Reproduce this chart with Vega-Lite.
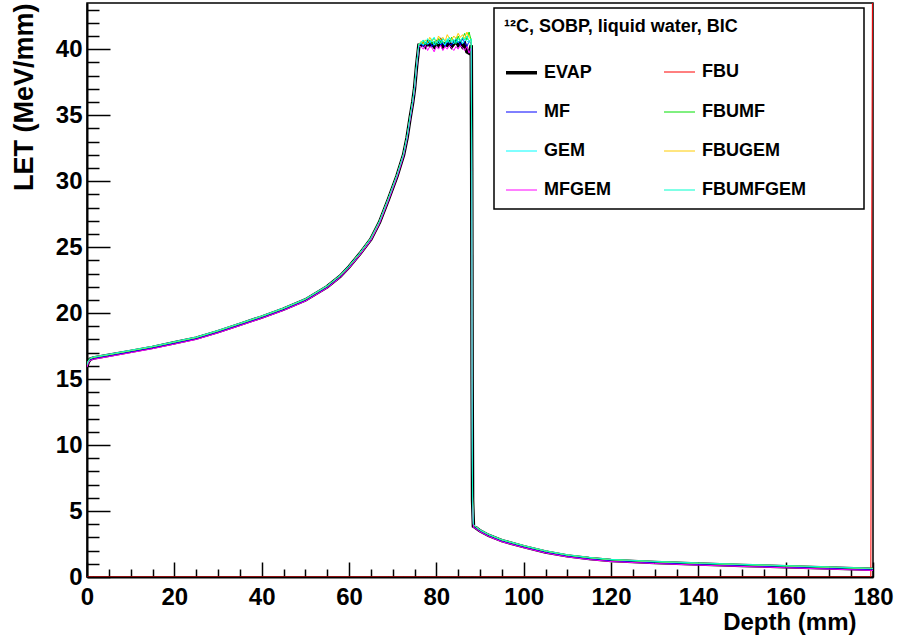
{
  "$schema": "https://vega.github.io/schema/vega-lite/v6.json",
  "width": 786,
  "height": 574,
  "autosize": "none",
  "padding": {"left": 87, "top": 3, "right": 25, "bottom": 62},
  "background": "white",
  "config": {
    "view": {"stroke": "black", "strokeWidth": 1.5},
    "font": "Liberation Sans",
    "axis": {"grid": false, "labelFlush": false, "labelOverlap": false},
    "legend": {"strokeWidth": 1.5}
  },
  "data": {
    "values": [
      {"d": 0, "EVAP": 16.0, "FBU": 0, "MF": 15.97, "FBUMF": 16.04, "GEM": 16.05, "FBUGEM": 16.06, "MFGEM": 15.9, "FBUMFGEM": 16.08},
      {"d": 0.3, "EVAP": 16.3, "FBU": 0, "MF": 16.27, "FBUMF": 16.34, "GEM": 16.35, "FBUGEM": 16.36, "MFGEM": 16.2, "FBUMFGEM": 16.38},
      {"d": 0.7, "EVAP": 16.5, "FBU": 0, "MF": 16.47, "FBUMF": 16.54, "GEM": 16.55, "FBUGEM": 16.56, "MFGEM": 16.4, "FBUMFGEM": 16.58},
      {"d": 1.5, "EVAP": 16.6, "FBU": 0, "MF": 16.57, "FBUMF": 16.64, "GEM": 16.65, "FBUGEM": 16.66, "MFGEM": 16.5, "FBUMFGEM": 16.68},
      {"d": 5, "EVAP": 16.8, "FBU": 0, "MF": 16.77, "FBUMF": 16.84, "GEM": 16.85, "FBUGEM": 16.86, "MFGEM": 16.7, "FBUMFGEM": 16.88},
      {"d": 10, "EVAP": 17.1, "FBU": 0, "MF": 17.07, "FBUMF": 17.14, "GEM": 17.15, "FBUGEM": 17.16, "MFGEM": 17.0, "FBUMFGEM": 17.18},
      {"d": 15, "EVAP": 17.4, "FBU": 0, "MF": 17.37, "FBUMF": 17.44, "GEM": 17.45, "FBUGEM": 17.46, "MFGEM": 17.3, "FBUMFGEM": 17.48},
      {"d": 20, "EVAP": 17.75, "FBU": 0, "MF": 17.72, "FBUMF": 17.79, "GEM": 17.8, "FBUGEM": 17.81, "MFGEM": 17.65, "FBUMFGEM": 17.83},
      {"d": 25, "EVAP": 18.1, "FBU": 0, "MF": 18.07, "FBUMF": 18.14, "GEM": 18.15, "FBUGEM": 18.16, "MFGEM": 18.0, "FBUMFGEM": 18.18},
      {"d": 30, "EVAP": 18.6, "FBU": 0, "MF": 18.57, "FBUMF": 18.64, "GEM": 18.65, "FBUGEM": 18.66, "MFGEM": 18.5, "FBUMFGEM": 18.68},
      {"d": 35, "EVAP": 19.15, "FBU": 0, "MF": 19.12, "FBUMF": 19.19, "GEM": 19.2, "FBUGEM": 19.21, "MFGEM": 19.05, "FBUMFGEM": 19.23},
      {"d": 40, "EVAP": 19.7, "FBU": 0, "MF": 19.67, "FBUMF": 19.74, "GEM": 19.75, "FBUGEM": 19.76, "MFGEM": 19.6, "FBUMFGEM": 19.78},
      {"d": 45, "EVAP": 20.3, "FBU": 0, "MF": 20.27, "FBUMF": 20.34, "GEM": 20.35, "FBUGEM": 20.36, "MFGEM": 20.2, "FBUMFGEM": 20.38},
      {"d": 50, "EVAP": 21.0, "FBU": 0, "MF": 20.97, "FBUMF": 21.04, "GEM": 21.05, "FBUGEM": 21.06, "MFGEM": 20.9, "FBUMFGEM": 21.08},
      {"d": 55, "EVAP": 22.0, "FBU": 0, "MF": 21.97, "FBUMF": 22.04, "GEM": 22.05, "FBUGEM": 22.06, "MFGEM": 21.9, "FBUMFGEM": 22.08},
      {"d": 58, "EVAP": 22.8, "FBU": 0, "MF": 22.77, "FBUMF": 22.84, "GEM": 22.85, "FBUGEM": 22.86, "MFGEM": 22.7, "FBUMFGEM": 22.88},
      {"d": 60, "EVAP": 23.5, "FBU": 0, "MF": 23.47, "FBUMF": 23.54, "GEM": 23.55, "FBUGEM": 23.56, "MFGEM": 23.4, "FBUMFGEM": 23.58},
      {"d": 62.5, "EVAP": 24.5, "FBU": 0, "MF": 24.47, "FBUMF": 24.54, "GEM": 24.55, "FBUGEM": 24.56, "MFGEM": 24.4, "FBUMFGEM": 24.58},
      {"d": 65, "EVAP": 25.6, "FBU": 0, "MF": 25.57, "FBUMF": 25.64, "GEM": 25.65, "FBUGEM": 25.66, "MFGEM": 25.5, "FBUMFGEM": 25.68},
      {"d": 67, "EVAP": 26.9, "FBU": 0, "MF": 26.87, "FBUMF": 26.94, "GEM": 26.95, "FBUGEM": 26.96, "MFGEM": 26.8, "FBUMFGEM": 26.98},
      {"d": 69, "EVAP": 28.6, "FBU": 0, "MF": 28.57, "FBUMF": 28.64, "GEM": 28.65, "FBUGEM": 28.66, "MFGEM": 28.5, "FBUMFGEM": 28.68},
      {"d": 71, "EVAP": 30.4, "FBU": 0, "MF": 30.37, "FBUMF": 30.44, "GEM": 30.45, "FBUGEM": 30.46, "MFGEM": 30.3, "FBUMFGEM": 30.48},
      {"d": 72.5, "EVAP": 32.0, "FBU": 0, "MF": 31.97, "FBUMF": 32.04, "GEM": 32.05, "FBUGEM": 32.06, "MFGEM": 31.9, "FBUMFGEM": 32.08},
      {"d": 73.3, "EVAP": 33.3, "FBU": 0, "MF": 33.27, "FBUMF": 33.34, "GEM": 33.35, "FBUGEM": 33.36, "MFGEM": 33.2, "FBUMFGEM": 33.38},
      {"d": 74, "EVAP": 34.8, "FBU": 0, "MF": 34.77, "FBUMF": 34.84, "GEM": 34.85, "FBUGEM": 34.86, "MFGEM": 34.7, "FBUMFGEM": 34.88},
      {"d": 74.6, "EVAP": 36.0, "FBU": 0, "MF": 35.97, "FBUMF": 36.04, "GEM": 36.05, "FBUGEM": 36.06, "MFGEM": 35.9, "FBUMFGEM": 36.08},
      {"d": 75, "EVAP": 37.0, "FBU": 0, "MF": 36.97, "FBUMF": 37.04, "GEM": 37.05, "FBUGEM": 37.06, "MFGEM": 36.9, "FBUMFGEM": 37.08},
      {"d": 75.5, "EVAP": 38.8, "FBU": 0, "MF": 38.77, "FBUMF": 38.84, "GEM": 38.85, "FBUGEM": 38.86, "MFGEM": 38.7, "FBUMFGEM": 38.88},
      {"d": 76, "EVAP": 40.3, "FBU": 0, "MF": 40.27, "FBUMF": 40.34, "GEM": 40.35, "FBUGEM": 40.36, "MFGEM": 40.2, "FBUMFGEM": 40.38},
      {"d": 76.5, "EVAP": 40.3, "FBU": 0, "MF": 40.4, "FBUMF": 40.4, "GEM": 40.5, "FBUGEM": 40.6, "MFGEM": 40.2, "FBUMFGEM": 40.5},
      {"d": 77, "EVAP": 40.4, "FBU": 0, "MF": 40.2, "FBUMF": 40.6, "GEM": 40.3, "FBUGEM": 40.4, "MFGEM": 40.0, "FBUMFGEM": 40.7},
      {"d": 77.5, "EVAP": 40.2, "FBU": 0, "MF": 40.5, "FBUMF": 40.3, "GEM": 40.7, "FBUGEM": 40.7, "MFGEM": 40.3, "FBUMFGEM": 40.4},
      {"d": 78, "EVAP": 40.5, "FBU": 0, "MF": 40.3, "FBUMF": 40.5, "GEM": 40.4, "FBUGEM": 40.5, "MFGEM": 39.9, "FBUMFGEM": 40.8},
      {"d": 78.5, "EVAP": 40.3, "FBU": 0, "MF": 40.6, "FBUMF": 40.7, "GEM": 40.5, "FBUGEM": 40.9, "MFGEM": 40.2, "FBUMFGEM": 40.5},
      {"d": 79, "EVAP": 40.4, "FBU": 0, "MF": 40.2, "FBUMF": 40.4, "GEM": 40.8, "FBUGEM": 40.6, "MFGEM": 40.1, "FBUMFGEM": 40.6},
      {"d": 79.5, "EVAP": 40.2, "FBU": 0, "MF": 40.4, "FBUMF": 40.6, "GEM": 40.3, "FBUGEM": 40.8, "MFGEM": 39.8, "FBUMFGEM": 40.9},
      {"d": 80, "EVAP": 40.5, "FBU": 0, "MF": 40.3, "FBUMF": 40.3, "GEM": 40.6, "FBUGEM": 40.5, "MFGEM": 40.2, "FBUMFGEM": 40.5},
      {"d": 80.5, "EVAP": 40.3, "FBU": 0, "MF": 40.7, "FBUMF": 40.8, "GEM": 40.4, "FBUGEM": 41.0, "MFGEM": 40.0, "FBUMFGEM": 40.7},
      {"d": 81, "EVAP": 40.6, "FBU": 0, "MF": 40.3, "FBUMF": 40.5, "GEM": 40.7, "FBUGEM": 40.7, "MFGEM": 40.3, "FBUMFGEM": 40.4},
      {"d": 81.5, "EVAP": 40.2, "FBU": 0, "MF": 40.5, "FBUMF": 40.6, "GEM": 40.5, "FBUGEM": 40.9, "MFGEM": 39.9, "FBUMFGEM": 40.8},
      {"d": 82, "EVAP": 40.4, "FBU": 0, "MF": 40.2, "FBUMF": 40.4, "GEM": 40.3, "FBUGEM": 40.6, "MFGEM": 40.2, "FBUMFGEM": 40.6},
      {"d": 82.5, "EVAP": 40.3, "FBU": 0, "MF": 40.6, "FBUMF": 40.7, "GEM": 40.8, "FBUGEM": 41.1, "MFGEM": 40.0, "FBUMFGEM": 40.5},
      {"d": 83, "EVAP": 40.5, "FBU": 0, "MF": 40.4, "FBUMF": 40.5, "GEM": 40.5, "FBUGEM": 40.8, "MFGEM": 40.3, "FBUMFGEM": 40.9},
      {"d": 83.5, "EVAP": 40.2, "FBU": 0, "MF": 40.3, "FBUMF": 40.9, "GEM": 40.6, "FBUGEM": 40.7, "MFGEM": 40.1, "FBUMFGEM": 40.6},
      {"d": 84, "EVAP": 40.4, "FBU": 0, "MF": 40.7, "FBUMF": 40.6, "GEM": 40.4, "FBUGEM": 41.0, "MFGEM": 39.9, "FBUMFGEM": 40.7},
      {"d": 84.5, "EVAP": 40.6, "FBU": 0, "MF": 40.4, "FBUMF": 40.4, "GEM": 40.9, "FBUGEM": 40.8, "MFGEM": 40.2, "FBUMFGEM": 40.5},
      {"d": 85, "EVAP": 40.3, "FBU": 0, "MF": 40.6, "FBUMF": 41.0, "GEM": 40.5, "FBUGEM": 41.2, "MFGEM": 40.0, "FBUMFGEM": 40.8},
      {"d": 85.5, "EVAP": 40.5, "FBU": 0, "MF": 40.3, "FBUMF": 40.6, "GEM": 40.7, "FBUGEM": 40.9, "MFGEM": 40.3, "FBUMFGEM": 40.6},
      {"d": 86, "EVAP": 40.2, "FBU": 0, "MF": 40.8, "FBUMF": 40.8, "GEM": 40.4, "FBUGEM": 41.1, "MFGEM": 40.1, "FBUMFGEM": 40.9},
      {"d": 86.5, "EVAP": 40.4, "FBU": 0, "MF": 40.5, "FBUMF": 41.2, "GEM": 40.8, "FBUGEM": 40.8, "MFGEM": 39.9, "FBUMFGEM": 40.7},
      {"d": 87, "EVAP": 39.8, "FBU": 0, "MF": 40.2, "FBUMF": 40.7, "GEM": 40.6, "FBUGEM": 41.3, "MFGEM": 40.2, "FBUMFGEM": 41.0},
      {"d": 87.5, "EVAP": 39.7, "FBU": 0, "MF": 40.6, "FBUMF": 41.3, "GEM": 40.5, "FBUGEM": 40.9, "MFGEM": 39.7, "FBUMFGEM": 40.6},
      {"d": 88, "EVAP": 40.3, "FBU": 0, "MF": 40.4, "FBUMF": 40.6, "GEM": 40.7, "FBUGEM": 40.7, "MFGEM": 40.1, "FBUMFGEM": 40.8},
      {"d": 88.1, "EVAP": 31.0, "FBU": 0, "MF": 31.5, "FBUMF": 31.2, "GEM": 30.5, "FBUGEM": 31.4, "MFGEM": 30.0, "FBUMFGEM": 30.8},
      {"d": 88.2, "EVAP": 15.0, "FBU": 0, "MF": 15.5, "FBUMF": 15.2, "GEM": 14.5, "FBUGEM": 15.4, "MFGEM": 14.8, "FBUMFGEM": 15.1},
      {"d": 88.3, "EVAP": 5.8, "FBU": 0, "MF": 6.0, "FBUMF": 5.9, "GEM": 5.6, "FBUGEM": 6.1, "MFGEM": 5.5, "FBUMFGEM": 5.7},
      {"d": 88.5, "EVAP": 3.85, "FBU": 0, "MF": 3.82, "FBUMF": 3.92, "GEM": 3.95, "FBUGEM": 3.97, "MFGEM": 3.75, "FBUMFGEM": 3.99},
      {"d": 89, "EVAP": 3.75, "FBU": 0, "MF": 3.72, "FBUMF": 3.8, "GEM": 3.81, "FBUGEM": 3.82, "MFGEM": 3.67, "FBUMFGEM": 3.83},
      {"d": 90, "EVAP": 3.5, "FBU": 0, "MF": 3.47, "FBUMF": 3.55, "GEM": 3.56, "FBUGEM": 3.57, "MFGEM": 3.42, "FBUMFGEM": 3.58},
      {"d": 92, "EVAP": 3.15, "FBU": 0, "MF": 3.12, "FBUMF": 3.2, "GEM": 3.21, "FBUGEM": 3.22, "MFGEM": 3.07, "FBUMFGEM": 3.23},
      {"d": 95, "EVAP": 2.75, "FBU": 0, "MF": 2.72, "FBUMF": 2.8, "GEM": 2.81, "FBUGEM": 2.82, "MFGEM": 2.67, "FBUMFGEM": 2.83},
      {"d": 100, "EVAP": 2.3, "FBU": 0, "MF": 2.27, "FBUMF": 2.35, "GEM": 2.36, "FBUGEM": 2.37, "MFGEM": 2.22, "FBUMFGEM": 2.38},
      {"d": 105, "EVAP": 1.9, "FBU": 0, "MF": 1.87, "FBUMF": 1.95, "GEM": 1.96, "FBUGEM": 1.97, "MFGEM": 1.82, "FBUMFGEM": 1.98},
      {"d": 110, "EVAP": 1.6, "FBU": 0, "MF": 1.57, "FBUMF": 1.65, "GEM": 1.66, "FBUGEM": 1.67, "MFGEM": 1.52, "FBUMFGEM": 1.68},
      {"d": 115, "EVAP": 1.4, "FBU": 0, "MF": 1.37, "FBUMF": 1.45, "GEM": 1.46, "FBUGEM": 1.47, "MFGEM": 1.32, "FBUMFGEM": 1.48},
      {"d": 120, "EVAP": 1.25, "FBU": 0, "MF": 1.22, "FBUMF": 1.3, "GEM": 1.31, "FBUGEM": 1.32, "MFGEM": 1.17, "FBUMFGEM": 1.33},
      {"d": 130, "EVAP": 1.1, "FBU": 0, "MF": 1.07, "FBUMF": 1.15, "GEM": 1.16, "FBUGEM": 1.17, "MFGEM": 1.02, "FBUMFGEM": 1.18},
      {"d": 140, "EVAP": 0.98, "FBU": 0, "MF": 0.95, "FBUMF": 1.03, "GEM": 1.04, "FBUGEM": 1.05, "MFGEM": 0.9, "FBUMFGEM": 1.06},
      {"d": 150, "EVAP": 0.88, "FBU": 0, "MF": 0.85, "FBUMF": 0.93, "GEM": 0.94, "FBUGEM": 0.95, "MFGEM": 0.8, "FBUMFGEM": 0.96},
      {"d": 160, "EVAP": 0.78, "FBU": 0, "MF": 0.75, "FBUMF": 0.83, "GEM": 0.84, "FBUGEM": 0.85, "MFGEM": 0.7, "FBUMFGEM": 0.86},
      {"d": 170, "EVAP": 0.68, "FBU": 0, "MF": 0.65, "FBUMF": 0.73, "GEM": 0.74, "FBUGEM": 0.75, "MFGEM": 0.6, "FBUMFGEM": 0.76},
      {"d": 179.5, "EVAP": 0.58, "FBU": 0, "MF": 0.55, "FBUMF": 0.63, "GEM": 0.64, "FBUGEM": 0.65, "MFGEM": 0.5, "FBUMFGEM": 0.66},
      {"d": 180, "EVAP": 0.58, "FBU": 60, "MF": 0.55, "FBUMF": 0.63, "GEM": 0.64, "FBUGEM": 0.65, "MFGEM": 0.5, "FBUMFGEM": 0.66}
    ]
  },
  "transform": [
    {"fold": ["EVAP", "FBU", "MF", "FBUMF", "GEM", "FBUGEM", "MFGEM", "FBUMFGEM"], "as": ["series", "value"]}
  ],
  "layer": [
    {
      "mark": {"type": "line", "clip": true},
      "encoding": {
        "x": {
          "field": "d", "type": "quantitative",
          "scale": {"domain": [0, 180], "nice": false, "zero": false},
          "axis": {
            "orient": "bottom",
            "values": [0, 20, 40, 60, 80, 100, 120, 140, 160, 180],
            "tickSize": -15, "tickColor": "black", "tickWidth": 1.5,
            "domainColor": "black", "domainWidth": 2,
            "labelFont": "Liberation Sans", "labelFontWeight": "bold", "labelFontSize": 24,
            "labelColor": "black", "labelPadding": 23, "labelBaseline": "top",
            "title": "Depth (mm)", "titleFont": "Liberation Sans", "titleFontWeight": "bold",
            "titleFontSize": 24, "titleColor": "black",
            "titleAlign": "right", "titleAnchor": "end", "titleBaseline": "alphabetic",
            "titleX": 769, "titleY": 52
          }
        },
        "y": {
          "field": "value", "type": "quantitative",
          "scale": {"domain": [0, 43.5], "nice": false},
          "axis": {
            "orient": "left",
            "values": [0, 5, 10, 15, 20, 25, 30, 35, 40],
            "tickSize": -23, "tickColor": "black", "tickWidth": 1.5,
            "domainColor": "black", "domainWidth": 2,
            "labelFont": "Liberation Sans", "labelFontWeight": "bold", "labelFontSize": 24,
            "labelColor": "black", "labelPadding": 28,
            "title": "LET (MeV/mm)", "titleFont": "Liberation Sans", "titleFontWeight": "bold",
            "titleFontSize": 27, "titleColor": "black", "titleAngle": -90,
            "titleAlign": "right", "titleBaseline": "alphabetic",
            "titleX": -55, "titleY": 0
          }
        },
        "color": {
          "field": "series", "type": "nominal",
          "scale": {
            "domain": ["EVAP", "MF", "GEM", "MFGEM", "FBU", "FBUMF", "FBUGEM", "FBUMFGEM"],
            "range": ["#000000", "#0000ff", "#00ffff", "#ff00ff", "#ff0000", "#00e000", "#ffcc00", "#00ffcc"]
          },
          "legend": {
            "orient": "none", "legendX": 407, "legendY": 5, "columns": 2,
            "title": "¹²C, SOBP, liquid water, BIC",
            "titleLimit": 500,
            "titleFont": "Liberation Sans", "titleFontWeight": "bold", "titleFontSize": 18, "titleColor": "black",
            "titlePadding": 19,
            "labelFont": "Liberation Sans", "labelFontWeight": "bold", "labelFontSize": 18, "labelColor": "black",
            "labelOffset": 5, "labelLimit": 400,
            "labelExpr": "datum.label == 'FBUMFGEM' ? datum.label + '\u00a0\u00a0\u00a0\u00a0\u00a0\u00a0\u00a0\u2800' : datum.label",
            "symbolType": "stroke", "symbolSize": 961,
            "rowPadding": 14, "columnPadding": 51,
            "padding": 10, "strokeColor": "black", "fillColor": "white", "cornerRadius": 0
          }
        },
        "strokeWidth": {
          "field": "series", "type": "nominal",
          "scale": {
            "type": "ordinal",
            "domain": ["EVAP", "MF", "GEM", "MFGEM", "FBU", "FBUMF", "FBUGEM", "FBUMFGEM"],
            "range": [3.5, 1, 1, 1, 1, 1, 1, 1]
          }
        }
      }
    },
    {
      "mark": {"type": "point", "opacity": 0},
      "encoding": {
        "x": {
          "field": "d", "type": "quantitative",
          "axis": {
            "orient": "bottom",
            "values": [5, 10, 15, 25, 30, 35, 45, 50, 55, 65, 70, 75, 85, 90, 95, 105, 110, 115, 125, 130, 135, 145, 150, 155, 165, 170, 175],
            "tickSize": -8, "tickColor": "black", "tickWidth": 1.5,
            "labels": false, "domain": false, "title": null
          }
        },
        "y": {
          "field": "value", "type": "quantitative",
          "axis": {
            "orient": "left",
            "values": [1, 2, 3, 4, 6, 7, 8, 9, 11, 12, 13, 14, 16, 17, 18, 19, 21, 22, 23, 24, 26, 27, 28, 29, 31, 32, 33, 34, 36, 37, 38, 39, 41, 42, 43],
            "tickSize": -12, "tickColor": "black", "tickWidth": 1.5,
            "labels": false, "domain": false, "title": null
          }
        }
      }
    }
  ],
  "resolve": {"axis": {"x": "independent", "y": "independent"}}
}
